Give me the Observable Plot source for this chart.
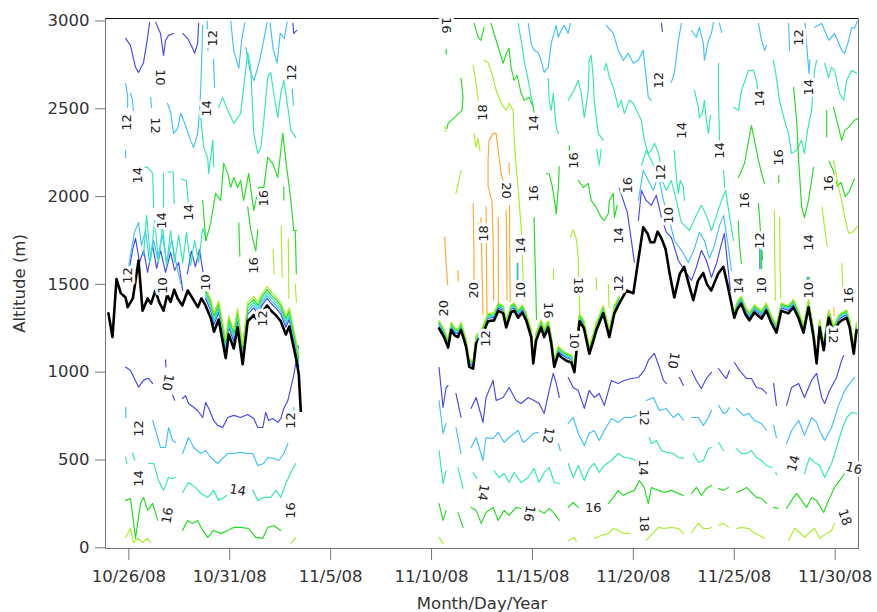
<!DOCTYPE html>
<html><head><meta charset="utf-8">
<script src="https://cdn.jsdelivr.net/npm/d3@7"></script>
<script src="https://cdn.jsdelivr.net/npm/@observablehq/plot@0.6"></script>
<style>body{margin:0;background:#fff}</style>
</head><body><div id="chart"></div>
<script>
// Time values are day numbers counted from 1 Oct 2008 (26 = 10/26, 41 = 11/10, 61 = 11/30), UTC.
const xTickDays = [26, 31, 36, 41, 46, 51, 56, 61];
const yTicks = [0, 500, 1000, 1500, 2000, 2500, 3000];
const levels = [10, 12, 14, 16, 18, 20];

// boundary-layer / inversion height (black line)
const bl1 = [[24.99,1335],[25.19,1200],[25.39,1530],[25.6,1450],[25.84,1425],[25.94,1370],[26.2,1420],[26.48,1635],[26.68,1350],[26.93,1420],[27.1,1390],[27.32,1465],[27.5,1400],[27.72,1350],[27.9,1440],[28.07,1400],[28.25,1470],[28.42,1420],[28.65,1380],[28.92,1465],[29.16,1420],[29.42,1370],[29.6,1420],[29.8,1380],[30.07,1305],[30.22,1230],[30.45,1300],[30.65,1175],[30.8,1080],[30.95,1215],[31.2,1135],[31.39,1255],[31.64,1045],[31.89,1290],[32.19,1325],[32.4,1290],[32.6,1340],[32.85,1380],[33.05,1350],[33.28,1325],[33.53,1290],[33.78,1215],[33.95,1260],[34.18,1135],[34.3,1070],[34.42,990],[34.52,780]];
const bl2 = [[41.37,1250],[41.62,1200],[41.82,1140],[41.97,1240],[42.15,1210],[42.31,1200],[42.46,1240],[42.6,1190],[42.72,1140],[42.87,1030],[43.06,1020],[43.21,1165],[43.5,1210],[43.8,1290],[44.1,1295],[44.3,1350],[44.55,1335],[44.7,1255],[44.94,1340],[45.1,1350],[45.29,1310],[45.5,1340],[45.69,1295],[45.94,1200],[46.04,1050],[46.18,1180],[46.43,1255],[46.58,1200],[46.78,1255],[46.93,1165],[47.08,1030],[47.28,1105],[47.43,1085],[47.68,1065],[47.93,1055],[48.08,1000],[48.33,1290],[48.55,1250],[48.82,1105],[49.02,1180],[49.17,1240],[49.51,1335],[49.81,1200],[50.06,1335],[50.3,1390],[50.65,1465],[51.0,1450],[51.24,1635],[51.49,1825],[51.7,1790],[51.85,1740],[52.04,1740],[52.2,1800],[52.38,1765],[52.6,1700],[52.8,1560],[53.03,1425],[53.3,1560],[53.52,1600],[53.75,1500],[53.97,1410],[54.2,1520],[54.46,1565],[54.65,1500],[54.86,1465],[55.2,1560],[55.46,1600],[55.7,1480],[56.0,1310],[56.15,1360],[56.35,1390],[56.55,1330],[56.75,1295],[57.0,1340],[57.35,1305],[57.59,1350],[57.84,1280],[58.09,1225],[58.33,1350],[58.68,1335],[58.93,1370],[59.18,1310],[59.43,1225],[59.68,1370],[59.93,1200],[60.08,1050],[60.23,1255],[60.43,1125],[60.68,1310],[60.92,1220],[61.17,1280],[61.32,1295],[61.57,1310],[61.72,1255],[61.92,1105],[62.06,1240]];
// periods where the stacked inversion contours hug the black line
const bandRanges = [[29.75,34.45],[41.3,50.35],[55.95,62.2]];

// contour polylines, [day, altitude m]
const c10 = [
 [[25.84,1030],[26.08,1010],[26.48,915],[26.73,955],[26.98,965],[27.18,935]],
 [[27.82,1070],[27.84,1030]],
 [[28.17,870],[28.27,840]],
 [[28.66,850],[28.81,867],[28.96,822],[29.16,805],[29.41,782],[29.66,742],[29.81,828],[30.01,782],[30.20,725],[30.40,697],[30.65,685],[30.90,742],[31.20,754],[31.54,742],[31.89,759],[32.19,736],[32.39,685],[32.64,685],[32.78,771],[32.93,725],[33.13,736],[33.38,714],[33.53,736],[33.68,793],[33.88,839],[34.03,913],[34.17,981],[34.27,1050],[34.4,1150]],
 [[41.37,1027],[41.57,799],[41.72,913],[41.82,924]],
 [[42.21,879],[42.46,742]],
 [[42.96,794],[43.21,856],[43.55,714],[43.70,856],[44.05,953],[44.20,839],[44.55,856],[44.84,913],[45.19,839],[45.44,822],[45.79,856],[46.08,839],[46.33,822],[46.58,765],[46.83,896],[47.03,993],[47.18,936],[47.33,856]],
 [[47.77,970],[48.02,913],[48.27,896],[48.57,794],[48.81,896],[49.06,856],[49.31,879],[49.56,811],[49.91,953],[50.25,936],[50.55,953],[50.90,964],[51.25,970],[51.54,1010],[51.74,1067],[52.04,1107],[52.29,1027],[52.49,953],[52.64,936]],
 [[53.28,970],[53.48,924]],
 [[53.88,1010],[54.12,953],[54.37,907],[54.62,964],[54.87,999]],
 [[55.22,1021],[55.47,981],[55.61,964],[55.76,1010]],
 [[56.01,1055],[56.26,1010],[56.61,964],[56.85,964],[57.10,913],[57.35,907],[57.60,879]],
 [[57.95,936],[58.09,811]],
 [[58.59,811],[58.84,913],[59.19,936],[59.48,856],[59.83,953],[60.08,993],[60.33,856],[60.48,822],[60.72,896],[61.07,970],[61.32,1067],[61.42,1095]],
 [[25.84,2901],[26.08,2861],[26.33,2736],[26.48,2707],[26.73,2764],[26.93,2907],[27.03,2992]],
 [[27.33,2992],[27.57,2929],[27.72,2804],[27.82,2890],[27.97,2918],[28.22,2929]],
 [[28.67,2929],[28.91,2901],[29.16,2844],[29.26,2816],[29.41,2873],[29.46,2986]],
 [[34.13,2986],[34.17,2929],[34.32,2946]],
 [[25.99,1566],[26.18,1694],[26.33,1762],[26.53,1625],[26.73,1694],[26.93,1568],[27.18,1722],[27.38,1591],[27.57,1694],[27.82,1568],[28.07,1682],[28.27,1580],[28.47,1625],[28.67,1466]],
 [[28.9,1560],[29.1,1690],[29.3,1600],[29.5,1700],[29.7,1550]],
 [[50.30,2047],[50.50,1978],[50.70,1910],[50.90,1751],[51.05,1626]],
 [[51.25,1864],[51.40,2035],[51.64,1978],[51.89,1950],[52.14,2007],[52.39,1881],[52.64,1796],[52.88,1768],[53.23,1636],[53.53,1580],[53.88,1523],[54.12,1597],[54.37,1694],[54.62,1636],[54.87,1540],[55.12,1619],[55.37,1733],[55.51,1790],[55.66,1625],[55.81,1466]],
 [[52.39,2986],[52.44,2940]],
 [[57.27,1720],[57.27,1590]],
 [[59.62,1540],[59.62,1440]],
 [[45.27,1620],[45.27,1520]]
];
const c12 = [
 [[25.84,800],[25.86,740]],
 [[27.18,725],[27.43,628],[27.57,571],[27.82,571],[27.97,685],[28.17,611],[28.32,600]],
 [[28.66,537],[28.96,628],[29.21,571],[29.56,537],[29.81,554],[30.05,514],[30.40,480],[30.65,509],[30.90,537],[31.20,537],[31.54,543],[31.89,537],[32.14,537],[32.39,469],[32.68,480],[32.88,514],[33.18,509],[33.43,497],[33.68,537],[33.88,594]],
 [[34.17,800],[34.22,760]],
 [[41.37,839],[41.57,651],[41.72,708]],
 [[42.21,685],[42.46,537]],
 [[42.96,571],[43.21,628],[43.55,497],[43.70,628],[44.05,622],[44.30,657],[44.60,600],[44.84,628],[45.29,668],[45.54,600],[45.79,622],[46.04,651],[46.28,657]],
 [[47.28,594],[47.38,554]],
 [[47.77,708],[48.02,742],[48.27,651],[48.57,582],[48.81,651],[49.06,668],[49.31,611],[49.56,668],[49.91,736],[50.25,714],[50.55,742],[50.90,742],[51.15,754]],
 [[51.64,839],[51.99,856],[52.29,782],[52.64,793],[52.98,742],[53.23,765],[53.48,725]],
 [[53.88,742],[54.22,742],[54.47,697],[54.72,742],[54.87,782]],
 [[55.22,811],[55.47,765],[55.61,771],[55.76,799]],
 [[56.11,793],[56.46,754],[56.71,765],[57.00,725],[57.35,708],[57.60,668]],
 [[57.95,697],[58.09,628]],
 [[58.59,594],[58.84,668],[59.19,725],[59.48,640],[59.83,742],[60.08,714],[60.23,668],[60.48,611],[60.82,685],[61.17,811],[61.47,896],[61.72,936],[61.96,970]],
 [[25.84,2645],[25.94,2576],[25.94,2508]],
 [[26.08,2588],[26.18,2548],[26.23,2491]],
 [[25.84,2263],[25.84,2223]],
 [[27.08,2565],[27.13,2508]],
 [[27.92,2531],[28.07,2479],[28.22,2360],[28.42,2388],[28.57,2474],[28.81,2405],[29.06,2320],[29.21,2280],[29.41,2360],[29.51,2491],[29.56,2605],[29.61,2776],[29.66,2975]],
 [[29.88,3000],[29.92,2830]],
 [[30.2,2780],[30.25,2620]],
 [[31.05,3000],[31.2,2830],[31.45,2730],[31.6,2900],[31.75,2990]],
 [[31.8,2850],[32.0,2720],[32.2,2660],[32.45,2760],[32.7,2900],[32.85,2990]],
 [[33.0,2990],[33.15,2840],[33.35,2760],[33.5,2930],[33.7,2900],[33.85,2995]],
 [[34.1,2610],[34.15,2520]],
 [[25.89,1523],[26.08,1665],[26.28,1796],[26.48,1853],[26.63,1722],[26.83,1807],[27.03,1625],[27.23,1750],[27.42,1648],[27.67,1779],[27.87,1625],[28.12,1750],[28.37,1608],[28.57,1505]],
 [[45.79,2986],[45.94,2872],[46.08,2833],[46.28,2821],[46.43,2776],[46.58,2707],[46.78,2736],[46.93,2872],[47.08,2935],[47.18,2975],[47.28,2907],[47.42,2947],[47.57,2975],[47.77,2929],[47.87,2986]],
 [[49.66,2975],[50.01,2929],[50.25,2833],[50.50,2776],[50.75,2815],[51.0,2759],[51.25,2776],[51.49,2833],[51.74,2565],[51.89,2548]],
 [[52.88,2650],[53.03,2702],[53.23,2890],[53.38,2986]],
 [[53.88,2947],[54.12,2907],[54.27,2964],[54.47,2872],[54.52,2776],[54.72,2890],[54.87,2929],[54.97,2992]],
 [[55.27,2986],[55.37,2935]],
 [[57.2,2986],[57.35,2890],[57.5,2833],[57.6,2861]],
 [[58.69,2986],[58.74,2833]],
 [[59.5,2990],[59.6,2850],[59.7,2700],[59.75,2780]],
 [[59.98,2964],[60.33,2986],[60.68,2890],[60.97,2929],[61.32,2833],[61.47,2815],[61.67,2890],[61.82,2964],[61.96,2958],[62.1,3000]],
 [[51.25,1978],[51.49,2149],[51.74,2092],[51.99,2035],[52.24,2121],[52.49,1978],[52.73,1893],[53.03,1750],[53.38,1694],[53.73,1625],[54.03,1705],[54.27,1796],[54.52,1750],[54.77,1648],[55.02,1722],[55.27,1836],[55.47,1893],[55.66,1750],[55.86,1580]],
 [[57.3,1720],[57.3,1590]],
 [[59.65,1540],[59.65,1440]]
];
const c14 = [
 [[25.84,515],[25.9,480]],
 [[26.18,540],[26.3,500]],
 [[26.98,480],[27.23,480],[27.47,384],[27.72,327],[27.97,400],[28.17,395],[28.32,400]],
 [[28.66,315],[28.96,372],[29.31,344],[29.56,310],[29.91,287],[30.20,327],[30.45,270],[30.70,287],[30.85,298]],
 [[32.14,327],[32.39,270],[32.69,287],[33.03,287],[33.28,327],[33.53,287],[33.78,366],[34.03,429],[34.27,480]],
 [[41.37,554],[41.57,366],[41.72,440]],
 [[42.31,457],[42.56,338]],
 [[43.06,429],[43.25,395]],
 [[44.10,440],[44.35,400],[44.60,423],[44.84,372],[45.09,429],[45.44,372],[45.79,400],[46.08,452],[46.33,372],[46.58,429],[46.83,457],[47.08,372],[47.33,366]],
 [[47.77,480],[48.02,400],[48.27,469],[48.57,383],[48.81,452],[49.06,480],[49.31,429],[49.56,469],[49.91,497],[50.25,537],[50.55,514],[50.90,509],[51.1,497]],
 [[51.79,628],[51.89,594],[52.14,611],[52.39,554],[52.64,543],[52.98,537],[53.23,514],[53.48,509]],
 [[53.97,537],[54.22,486],[54.47,497],[54.72,565],[54.87,571]],
 [[55.22,600],[55.47,554]],
 [[56.11,565],[56.36,537],[56.61,537],[56.85,554],[57.10,514],[57.35,497],[57.60,469],[57.85,457]],
 [[58.05,430],[58.1,415]],
 [[59.48,423],[59.73,514],[59.98,486],[60.23,469],[60.48,400],[60.82,480],[61.07,571],[61.32,668],[61.57,742],[61.82,771],[62.06,765]],
 [[30.45,2508],[30.65,2565],[30.90,2491],[31.20,2417],[31.54,2474],[31.89,2821],[32.04,2736],[32.19,2360],[32.39,2246],[32.54,2280],[32.69,2434],[32.88,2679],[33.03,2707],[33.18,2588],[33.38,2451],[33.53,2588],[33.68,2662],[33.88,2508],[34.03,2377],[34.27,2337]],
 [[29.56,2450],[29.71,2280],[29.91,2220],[29.96,2130],[30.05,2220],[30.16,2320],[30.21,2170]],
 [[26.6,2166],[26.93,2166],[27.18,2132],[27.23,1938]],
 [[27.72,2130],[27.72,1940]],
 [[27.95,2140],[28.2,2140],[28.25,1960]],
 [[28.6,2100],[28.85,2090],[28.95,1960]],
 [[26.73,1665],[26.88,1893],[27.08,1637],[27.28,1864],[27.47,1625],[27.67,1836],[27.87,1608],[28.07,1807],[28.27,1625],[28.47,1779],[28.67,1625],[28.86,1796],[29.06,1608],[29.26,1750],[29.46,1625],[29.66,1819],[29.86,1750]],
 [[45.29,2986],[45.44,2890],[45.59,2776],[45.79,2662],[45.94,2565],[46.04,2519]],
 [[46.78,2673],[46.83,2548],[46.93,2491],[47.03,2588],[47.18,2394],[47.28,2360]],
 [[47.77,2548],[48.07,2605],[48.27,2662],[48.42,2588],[48.57,2451],[48.77,2605],[48.81,2776],[48.91,2804],[49.01,2679],[49.06,2548],[49.26,2360],[49.51,2320]],
 [[49.56,2719],[49.66,2759],[49.81,2679],[50.01,2622],[50.25,2508],[50.40,2548],[50.55,2474],[50.80,2548],[51.00,2531],[51.15,2491],[51.40,2434],[51.54,2320],[51.74,2246],[51.89,2263],[52.04,2303],[52.14,2280],[52.29,2223],[52.39,2121]],
 [[53.03,2263],[53.13,2109],[53.23,2018],[53.33,2092],[53.48,2052],[53.53,1978]],
 [[54.03,2605],[54.22,2508],[54.27,2451],[54.42,2474],[54.52,2548],[54.62,2434],[54.72,2360],[54.82,2462]],
 [[55.22,2759],[55.22,2548],[55.27,2320]],
 [[55.47,2150],[55.52,2052]],
 [[55.96,2508],[56.21,2491],[56.36,2605],[56.71,2719],[56.95,2719],[57.10,2662],[57.20,2588]],
 [[57.94,2776],[58.09,2679],[58.24,2548],[58.49,2434],[58.69,2360],[58.84,2246],[59.09,2263],[59.33,2320],[59.48,2246],[59.63,2377],[59.83,2491],[59.98,2719],[60.08,2776]],
 [[60.48,2759],[60.68,2679],[60.82,2736],[60.97,2719],[61.22,2588],[61.42,2548],[61.57,2662],[61.82,2719],[62.06,2702]],
 [[51.40,2178],[51.64,2263],[51.89,2206],[52.14,2149],[52.39,2104],[52.64,2035],[52.88,2092],[53.13,1978],[53.38,1853],[53.78,1807],[54.12,1893],[54.37,1950],[54.62,1893],[54.87,1807],[55.17,1910],[55.37,1978],[55.57,2035],[55.76,1893],[55.96,1750]],
 [[49.18,2270],[49.31,2180],[49.41,2270]],
 [[57.33,1720],[57.33,1590]],
 [[59.68,1540],[59.68,1440]],
 [[45.24,1620],[45.24,1520]]
];
const c16 = [
 [[25.84,270],[26.08,281],[26.33,54],[26.58,253],[26.73,287],[26.93,213],[27.18,253],[27.43,156]],
 [[28.66,99],[28.91,156],[29.16,139],[29.41,156],[29.66,99],[29.91,59],[30.20,99],[30.55,82],[30.90,99],[31.20,116],[31.54,116],[31.94,110],[32.29,59],[32.64,54],[32.88,116],[33.18,127],[33.53,99]],
 [[41.37,252],[41.57,156],[41.72,213]],
 [[42.31,201],[42.56,116]],
 [[42.96,230],[43.21,213],[43.46,139],[43.70,201],[44.05,230],[44.30,156],[44.60,213],[44.84,185],[45.19,230],[45.44,224]],
 [[46.33,213],[46.58,196],[46.83,224],[47.08,196],[47.33,156]],
 [[47.77,230],[48.02,258],[48.27,230]],
 [[49.76,252],[50.01,287],[50.25,327],[50.50,298],[50.75,315],[51.05,327],[51.30,383],[51.54,343],[51.74,252],[51.89,343],[52.24,327],[52.54,315],[52.88,327],[53.23,310],[53.48,298]],
 [[53.88,310],[54.12,344],[54.37,298],[54.62,338],[54.87,355]],
 [[55.22,338],[55.47,327],[55.71,344]],
 [[56.11,315],[56.36,327],[56.61,344],[56.85,315],[57.10,287],[57.35,281],[57.60,252]],
 [[57.95,230],[58.19,224]],
 [[58.59,224],[58.84,270],[59.09,310],[59.33,270],[59.58,230],[59.83,287],[60.08,270],[60.43,201],[60.67,270],[60.97,344],[61.22,383],[61.47,423]],
 [[29.66,1978],[29.81,1750],[29.96,1807],[30.05,1847],[30.30,2018],[30.55,1978],[30.70,2189],[30.90,2132],[31.05,2052],[31.20,2109],[31.39,2052],[31.54,2092],[31.69,1978],[31.94,2132],[32.19,1921],[32.44,2052],[32.69,2052],[32.88,2223],[33.13,2189],[33.38,2109],[33.63,2360],[33.78,2206],[34.03,1978],[34.17,1807],[34.32,1807]],
 [[31.45,1850],[31.5,1660]],
 [[33.68,2052],[33.68,1980]],
 [[31.89,1940],[32.04,1810],[32.29,1690],[32.39,1810]],
 [[34.25,1800],[34.3,1560]],
 [[41.72,2840],[41.73,2810]],
 [[42.46,2673],[42.56,2565],[42.51,2491],[41.82,2417],[41.77,2388]],
 [[43.11,2986],[43.31,2907],[43.45,2890],[43.60,2964]],
 [[43.95,2986],[44.35,2833],[44.55,2759],[44.70,2815],[44.84,2844],[44.94,2736],[45.09,2662],[45.24,2690],[45.44,2588],[45.59,2548],[45.84,2565],[46.04,2508],[46.08,2479]],
 [[46.08,1881],[46.13,1636],[46.18,1409],[46.2,1300]],
 [[46.68,2130],[46.83,2130],[46.98,2060],[47.13,1950],[47.18,1900],[47.28,2050],[47.33,2170]],
 [[48.27,2092],[48.52,2052],[48.77,2075],[48.91,1978],[49.16,1938],[49.41,1881],[49.56,1864],[49.76,1904],[49.81,1978],[50.01,2018],[50.06,1881],[50.20,1950]],
 [[47.82,2290],[47.83,2260]],
 [[56.21,2109],[56.36,2149],[56.51,2189],[56.71,2320],[56.85,2405],[57.00,2320],[57.20,2206],[57.35,2132],[57.50,2075]],
 [[58.94,2622],[59.09,2434],[59.19,2206],[59.34,1938],[59.48,1881],[59.68,1978],[59.83,2092],[59.93,2166]],
 [[60.92,2508],[61.17,2394],[61.32,2320],[61.47,2377],[61.67,2394],[61.96,2434],[62.14,2445]],
 [[58.2,2120],[58.21,2080]],
 [[60.58,2490],[60.58,2340]],
 [[56.2,1860],[56.25,1740],[56.35,1620]],
 [[57.2,1960],[57.3,1800],[57.4,1640]],
 [[60.7,2200],[60.9,2150],[61.1,2060],[61.3,2080],[61.5,2000],[61.7,2030],[61.95,2100]],
 [[57.36,1720],[57.36,1590]],
 [[59.71,1540],[59.71,1440]]
];
const c18 = [
 [[25.84,59],[26.08,110],[26.23,30],[26.43,54],[26.68,30],[26.93,54],[27.08,30]],
 [[34.03,25],[34.27,59]],
 [[41.37,59],[41.57,25]],
 [[47.77,42],[48.07,59],[48.17,36]],
 [[49.06,54],[49.41,70],[49.76,82],[50.01,110],[50.25,99],[50.50,82],[50.80,82]],
 [[51.64,42],[52.24,116],[52.54,110],[52.88,116],[53.23,110],[53.48,82]],
 [[53.88,87],[54.22,139],[54.47,110],[54.72,110],[54.87,116]],
 [[55.22,127],[55.47,139],[55.71,116]],
 [[56.11,110],[56.36,116],[56.71,110],[56.95,87],[57.25,70],[57.50,54]],
 [[58.69,42],[58.99,110],[59.24,87],[59.48,59],[59.73,87],[59.98,110],[60.23,54],[60.58,82],[60.82,99],[60.97,139]],
 [[33.15,1700],[33.2,1560]],
 [[33.55,1830],[33.6,1540]],
 [[33.9,1760],[33.93,1420]],
 [[34.25,1500],[34.3,1400]],
 [[43.06,2747],[43.21,2645],[43.31,2548]],
 [[43.60,2776],[43.80,2764],[44.05,2679],[44.20,2605],[44.45,2531],[44.70,2491],[44.84,2531],[45.04,2491],[45.09,2337],[45.19,2166],[45.29,2052],[45.44,1824],[45.49,1693],[45.54,1523],[45.59,1409]],
 [[43.1,2360],[43.2,2280],[43.3,2330],[43.4,2260]],
 [[42.46,2149],[42.21,2018]],
 [[41.67,2400],[41.72,2370]],
 [[47.87,1770],[48.02,1810],[48.17,1760],[48.27,1650],[48.3,1470],[48.35,1330]],
 [[47.03,1590],[47.05,1530]],
 [[49.16,1540],[49.18,1470]],
 [[49.76,1500],[49.8,1370]],
 [[57.99,1920],[58.0,1700],[58.04,1410]],
 [[58.25,1880],[58.27,1600],[58.3,1420]],
 [[60.92,2206],[61.17,2052],[61.32,1978],[61.47,1881],[61.67,1790],[61.9,1800],[62.1,1830]],
 [[60.35,1940],[60.48,1820],[60.6,1720]],
 [[61.33,1620],[61.38,1480]],
 [[43.3,1850],[43.4,1790],[43.5,1700]]
];
const c20 = [
 [[44.08,1410],[44.06,1700],[44.0,1970],[43.8,2060],[43.8,2210],[43.85,2320],[44.05,2360],[44.2,2360],[44.35,2220],[44.45,2130],[44.55,2090]],
 [[44.7,1920],[44.72,1650],[44.74,1410]],
 [[44.86,1950],[44.9,1400]],
 [[43.06,1960],[43.1,1700],[43.11,1420]],
 [[43.45,1880],[43.5,1600],[43.55,1330]],
 [[43.7,1940],[43.72,1640],[43.75,1320]],
 [[44.3,1880],[44.32,1330]],
 [[41.65,1770],[41.72,1620],[41.8,1500]],
 [[42.3,1580],[42.33,1520]],
 [[60.93,1370],[60.95,1320]],
 [[44.84,2190],[44.86,2130]]
];

// contour labels: [day, altitude, text, rotation°]
const labels = [
 [25.89,2422,"12",-90],[27.57,2679,"10",90],[27.33,2405,"12",90],[29.86,2502,"14",-90],
 [30.15,2901,"12",-90],[34.08,2707,"12",-90],[26.43,2121,"14",-90],[27.62,1864,"14",-90],
 [28.96,1910,"14",-90],[32.69,1990,"16",-90],[25.94,1551,"12",-90],[27.67,1494,"10",-90],
 [29.81,1511,"10",-90],[32.19,1608,"16",-90],[32.64,1306,"12",-90],[27.92,942,"10",100],
 [26.48,680,"12",-90],[26.48,395,"14",-90],[27.92,184,"16",-80],[31.39,327,"14",10],
 [34.03,725,"12",-90],[34.03,213,"16",-90],
 [41.72,2975,"16",90],[43.55,2479,"18",-90],[46.08,2417,"14",-90],[48.07,2206,"16",-90],
 [44.70,2035,"20",90],[46.08,2018,"16",-90],[50.75,2064,"16",-90],[43.60,1790,"18",-90],
 [45.44,1722,"14",-90],[50.30,1779,"14",-90],[43.11,1466,"20",-90],[41.62,1364,"20",-90],
 [45.44,1466,"10",-90],[46.78,1352,"16",90],[48.27,1494,"18",90],[50.30,1505,"12",-90],
 [43.70,1192,"12",-90],[48.07,1181,"10",90],[52.24,2662,"12",-90],[52.38,2138,"12",-90],
 [52.78,1893,"10",-90],[53.38,2377,"14",-90],[55.27,2263,"14",-90],[57.25,2559,"14",-90],
 [59.19,2906,"12",-90],[59.68,2622,"14",-90],[58.2,2223,"16",-90],[60.67,2075,"16",-90],
 [56.51,1978,"16",-90],[57.25,1750,"12",-90],[56.21,1494,"14",-90],[57.35,1494,"10",-90],
 [59.68,1739,"14",-90],[59.68,1466,"10",-90],[61.67,1437,"16",-90],[60.92,1210,"12",90],
 [52.98,1067,"10",100],[46.78,640,"12",100],[43.55,315,"14",100],[45.84,195,"16",100],
 [49.01,230,"16",0],[51.54,742,"12",90],[51.49,457,"14",90],[51.54,138,"18",90],
 [58.94,480,"14",-75],[61.92,452,"16",15],[61.47,173,"18",70]
];

const colors = {10: "#4646ee", 12: "#40c0ff", 14: "#30e8b4", 16: "#22dd22", 18: "#aaee2a", 20: "#ffaa33"};
const contourSets = {10: c10, 12: c12, 14: c14, 16: c16, 18: c18, 20: c20};

const T0 = Date.UTC(2008, 9, 1);
const toDate = d => new Date(T0 + (d - 1) * 864e5);
const flatten = (lines, key) => lines.flatMap((pts, i) => pts.map(([d, a]) => ({t: toDate(d), day: d, alt: a, id: key + "-" + i})));

const blRows = [...flatten([bl1], "s1"), ...flatten([bl2], "s2")];
const bandRows = bandRanges.flatMap(([a, b], k) => blRows.filter(r => r.day >= a && r.day <= b).map(r => ({...r, id: "band" + k})));

const font = "DejaVu Sans, Verdana, sans-serif";
const marks = [];
for (const v of levels) {
  marks.push(Plot.line(flatten(contourSets[v], "c" + v), {x: "t", y: "alt", z: "id", stroke: colors[v], strokeWidth: 1.15}));
}
// stacked inversion contours drawn just above the black line
const bandStyles = [[10, -3], [12, -4.2], [14, -5.4], [16, -6.6], [18, -7.8]];
for (const [v, off] of bandStyles) {
  marks.push(Plot.line(bandRows.filter(r => r.id !== "band0"), {x: "t", y: "alt", z: "id", stroke: colors[v], strokeWidth: 1.2, dy: off}));
  marks.push(Plot.line(bandRows.filter(r => r.id === "band0"), {x: "t", y: "alt", z: "id", stroke: colors[v], strokeWidth: 1.2, dy: off * 2.4}));
}
marks.push(Plot.line(blRows, {x: "t", y: "alt", z: "id", stroke: "#000", strokeWidth: 2.6, strokeLinejoin: "round"}));
marks.push(Plot.frame({stroke: "#777"}));
marks.push(Plot.ruleY([3014], {stroke: "#111"}));
marks.push(Plot.text(labels, {x: d => toDate(d[0]), y: d => d[1], text: d => d[2], rotate: d => d[3],
  fontSize: 13, fontFamily: font, fill: "#222", stroke: "white", strokeWidth: 6}));
marks.push(Plot.axisX({ticks: xTickDays.map(toDate), tickFormat: d3.utcFormat("%-m/%-d/%y"), tickSize: 12, tickPadding: 10,
  stroke: "#777", fill: "#333", label: "Month/Day/Year", labelAnchor: "center", labelOffset: 60, labelArrow: "none"}));
marks.push(Plot.axisY({ticks: yTicks, tickFormat: d => String(d), tickSize: 10, tickPadding: 6, stroke: "#777", fill: "#333",
  label: "Altitude (m)", labelAnchor: "center", labelOffset: 92, labelArrow: "none"}));

const chart = Plot.plot({
  width: 877, height: 612,
  marginLeft: 105, marginRight: 19, marginTop: 18, marginBottom: 64,
  x: {type: "utc", domain: [toDate(24.844), toDate(62.156)]},
  y: {domain: [-4, 3014]},
  style: {fontFamily: font, fontSize: "16.5px", color: "#333", background: "white"},
  marks
});
document.getElementById("chart").appendChild(chart);
</script>
</body></html>
